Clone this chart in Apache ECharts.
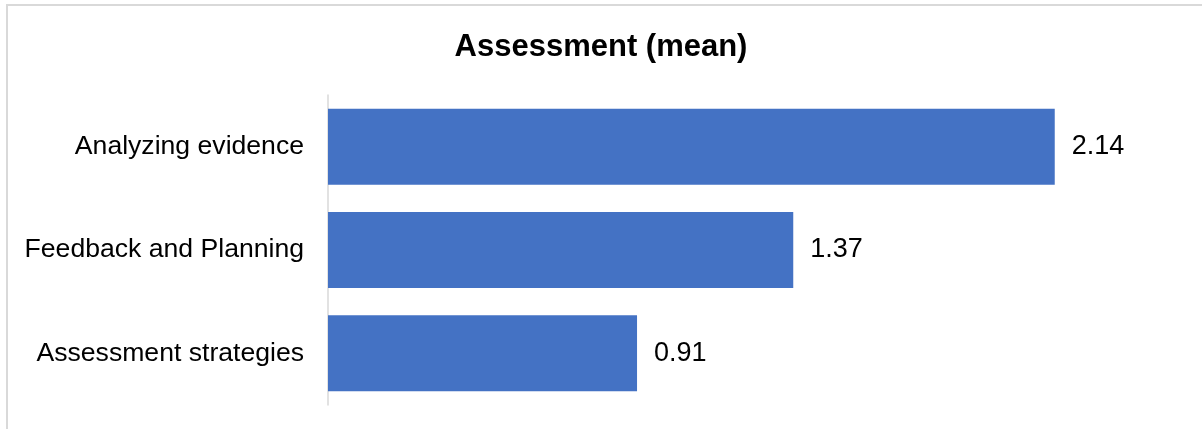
<!DOCTYPE html>
<html>
<head>
<meta charset="utf-8">
<script src="https://cdn.jsdelivr.net/npm/echarts@6/dist/echarts.min.js"></script>
<style>
    html, body { margin: 0; padding: 0; background: #fff; }
    #chart { width: 1202px; height: 429px; }
</style>
</head>
<body>
<div id="chart"></div>
<script>
var categories = ['Analyzing evidence', 'Feedback and Planning', 'Assessment strategies'];
var meanValues = [2.14, 1.37, 0.91];
var titleText = 'Assessment (mean)';

var myChart = echarts.init(document.getElementById('chart'));

var option = {
    animation: false,
    backgroundColor: '#fff',
    textStyle: {
        fontFamily: 'Liberation Sans, Arial, sans-serif',
        color: '#000'
    },
    // outer frame, only left and top edges visible
    graphic: [{
        type: 'rect',
        shape: { x: 7, y: 5, width: 1400, height: 800 },
        style: { fill: 'none', stroke: '#d9d9d9', lineWidth: 2 },
        silent: true
    }],
    title: {
        text: titleText,
        left: 'center',
        top: 27,
        textStyle: {
            fontFamily: 'Liberation Sans, Arial, sans-serif',
            fontSize: 31,
            fontWeight: 'bold',
            color: '#000'
        }
    },
    grid: {
        left: 328,
        right: 25,
        top: 95,
        bottom: 24
    },
    xAxis: {
        type: 'value',
        min: 0,
        max: 2.5,
        show: false
    },
    yAxis: {
        type: 'category',
        data: categories,
        inverse: true,
        axisLine: {
            show: true,
            lineStyle: { color: '#d9d9d9', width: 1.5 }
        },
        axisTick: { show: false },
        axisLabel: {
            margin: 24,
            fontSize: 26.6,
            color: '#000'
        }
    },
    series: [{
        name: 'mean',
        type: 'bar',
        barWidth: 76,
        data: meanValues,
        itemStyle: { color: '#4472c4' },
        label: {
            show: true,
            position: 'right',
            distance: 17,
            fontSize: 27,
            color: '#000'
        }
    }]
};
myChart.setOption(option);
</script>
</body>
</html>
